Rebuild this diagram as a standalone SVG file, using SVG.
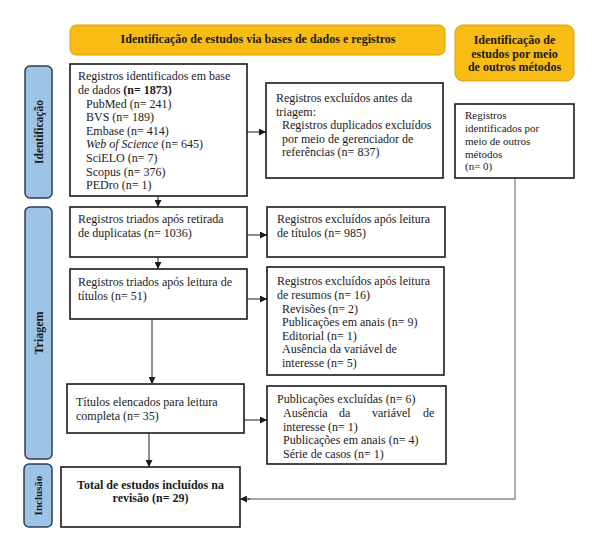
<svg xmlns="http://www.w3.org/2000/svg" width="592" height="540" viewBox="0 0 592 540">
<style>
.bg{fill:#fff}
.banner{fill:#F9BC15;stroke:#D9A010;stroke-width:1}
.side{fill:#9DC3E6;stroke:#2E3E50;stroke-width:1.5}
.box{fill:#fff;stroke:#1a1a1a;stroke-width:1.6}
text{font-family:"Liberation Serif","Times New Roman",serif;font-size:12px;fill:#1a1a1a}
.b{font-weight:bold}
.sm{font-size:11px}
.c{text-anchor:middle}
.conn{stroke:#1a1a1a;stroke-width:1;fill:none}
.gray{stroke:#888;stroke-width:1.3;fill:none}
</style>
<defs>
<marker id="ah" viewBox="0 0 10 10" refX="10" refY="5" markerWidth="7" markerHeight="7" markerUnits="userSpaceOnUse" orient="auto">
<path d="M0,0 L10,5 L0,10 z" fill="#1a1a1a"/>
</marker>
</defs>
<rect class="bg" x="0" y="0" width="592" height="540"/>

<g id="banner-main">
<rect class="banner" x="70" y="25" width="375" height="30" rx="6"/>
<text class="b c" x="258" y="43">Identificação de estudos via bases de dados e registros</text>
</g>
<g id="banner-other">
<rect class="banner" x="455" y="25" width="119" height="56" rx="8"/>
<text class="b c" x="514.5" y="44">Identificação de</text>
<text class="b c" x="514.5" y="57.5">estudos por meio</text>
<text class="b c" x="514.5" y="71">de outros métodos</text>
</g>

<g id="side-identificacao">
<rect class="side" x="25" y="66" width="27" height="132" rx="5"/>
<text class="b c" style="font-size:11.5px" transform="translate(42.5,132) rotate(-90)">Identificação</text>
</g>
<g id="side-triagem">
<rect class="side" x="25" y="207" width="27" height="252" rx="5"/>
<text class="b c" transform="translate(42.5,333) rotate(-90)">Triagem</text>
</g>
<g id="side-inclusao">
<rect class="side" x="24" y="464" width="28" height="63" rx="5"/>
<text class="b c sm" transform="translate(42,495.5) rotate(-90)">Inclusão</text>
</g>

<g id="connectors">
<line class="conn" x1="247" y1="132" x2="266" y2="132" marker-end="url(#ah)"/>
<line class="conn" x1="158" y1="196" x2="158" y2="207" marker-end="url(#ah)"/>
<line class="conn" x1="247" y1="235" x2="267" y2="235" marker-end="url(#ah)"/>
<line class="conn" x1="158" y1="257" x2="158" y2="269" marker-end="url(#ah)"/>
<line class="conn" x1="247" y1="299" x2="267" y2="299" marker-end="url(#ah)"/>
<line class="conn" x1="152" y1="319" x2="152" y2="384" marker-end="url(#ah)"/>
<line class="conn" x1="244" y1="420" x2="267" y2="420" marker-end="url(#ah)"/>
<line class="conn" x1="149" y1="433" x2="149" y2="467" marker-end="url(#ah)"/>
<polyline class="gray" points="515,178 515,499 248,499"/>
<line class="conn" x1="250" y1="499" x2="240" y2="499" marker-end="url(#ah)"/>
</g>

<g id="box-identificados">
<rect class="box" x="70" y="64" width="177" height="132"/>
<text x="78" y="80">Registros identificados em base</text>
<text x="78" y="94">de dados <tspan class="b">(n= 1873)</tspan></text>
<text x="86" y="107.5">PubMed (n= 241)</text>
<text x="86" y="121">BVS (n= 189)</text>
<text x="86" y="134.5">Embase (n= 414)</text>
<text x="86" y="148"><tspan font-style="italic">Web of Science</tspan> (n= 645)</text>
<text x="86" y="162">SciELO (n= 7)</text>
<text x="86" y="175.5">Scopus (n= 376)</text>
<text x="86" y="189">PEDro (n= 1)</text>
</g>

<g id="box-excluidos-antes">
<rect class="box" x="266" y="83" width="177" height="95"/>
<text x="276" y="102">Registros excluídos antes da</text>
<text x="276" y="115.5">triagem:</text>
<text x="282" y="129">Registros duplicados excluídos</text>
<text x="282" y="142.5">por meio de gerenciador de</text>
<text x="282" y="156">referências (n= 837)</text>
</g>

<g id="box-outros">
<rect class="box" x="455" y="104" width="119" height="74"/>
<text class="sm" x="465" y="119">Registros</text>
<text class="sm" x="465" y="132">identificados por</text>
<text class="sm" x="465" y="145">meio de outros</text>
<text class="sm" x="465" y="157.5">métodos</text>
<text class="sm" x="465" y="170">(n= 0)</text>
</g>

<g id="box-triados-dup">
<rect class="box" x="70" y="207" width="177" height="50"/>
<text x="78" y="223">Registros triados após retirada</text>
<text x="78" y="237">de duplicatas (n= 1036)</text>
</g>

<g id="box-excl-titulos">
<rect class="box" x="267" y="207" width="178" height="50"/>
<text x="277" y="223">Registros excluídos após leitura</text>
<text x="277" y="237">de títulos (n= 985)</text>
</g>

<g id="box-triados-titulos">
<rect class="box" x="70" y="269" width="177" height="50"/>
<text x="78" y="286">Registros triados após leitura de</text>
<text x="78" y="300">títulos (n= 51)</text>
</g>

<g id="box-excl-resumos">
<rect class="box" x="267" y="267" width="177" height="108"/>
<text x="277" y="285">Registros excluídos após leitura</text>
<text x="277" y="299">de resumos (n= 16)</text>
<text x="282" y="312.5">Revisões (n= 2)</text>
<text x="282" y="326">Publicações em anais (n= 9)</text>
<text x="282" y="339.5">Editorial (n= 1)</text>
<text x="282" y="353">Ausência da variável de</text>
<text x="282" y="366.5">interesse (n= 5)</text>
</g>

<g id="box-elencados">
<rect class="box" x="67" y="384" width="177" height="49"/>
<text x="76" y="406">Títulos elencados para leitura</text>
<text x="76" y="420">completa (n= 35)</text>
</g>

<g id="box-pub-excluidas">
<rect class="box" x="267" y="386" width="179" height="78"/>
<text x="277" y="403">Publicações excluídas (n= 6)</text>
<text y="417"><tspan x="283">Ausência</tspan><tspan x="339">da</tspan><tspan x="372">variável</tspan><tspan x="423">de</tspan></text>
<text x="283" y="430.5">interesse (n= 1)</text>
<text x="283" y="444">Publicações em anais (n= 4)</text>
<text x="283" y="457.5">Série de casos (n= 1)</text>
</g>

<g id="box-incluidos">
<rect class="box" x="61" y="467" width="179" height="60"/>
<text class="b c" x="150.5" y="489">Total de estudos incluídos na</text>
<text class="b c" x="150.5" y="502">revisão (n= 29)</text>
</g>
</svg>
